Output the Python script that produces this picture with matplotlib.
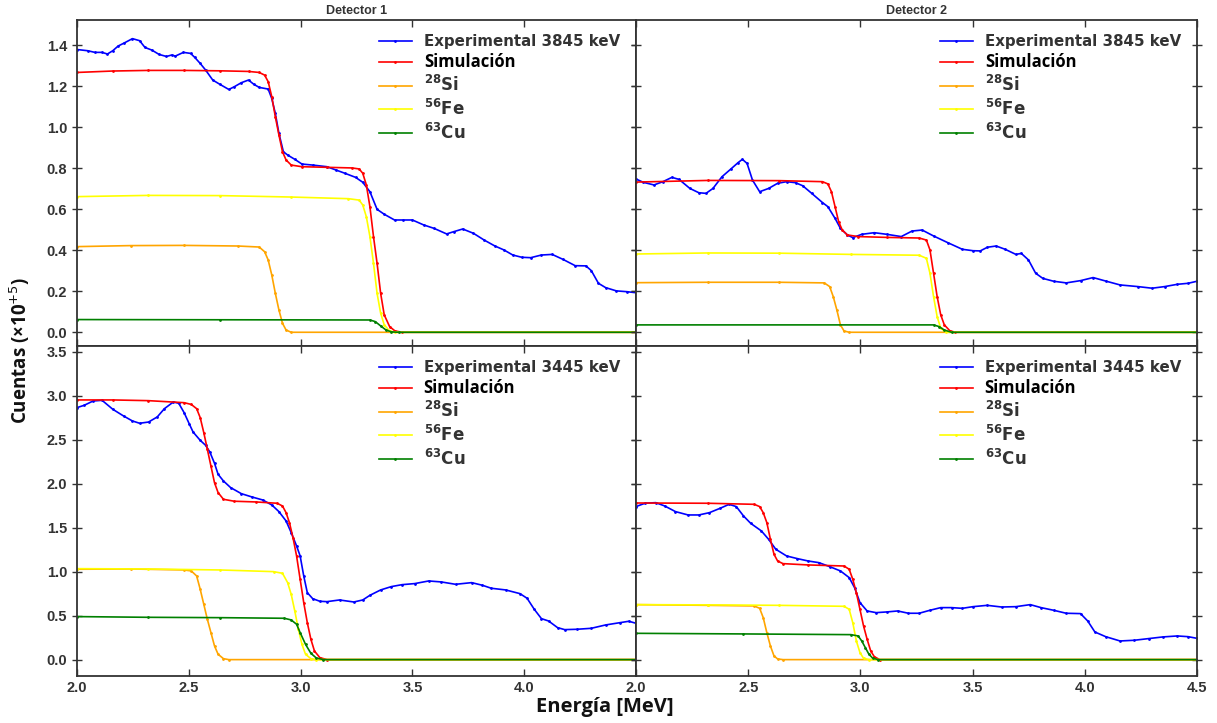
import matplotlib
matplotlib.use("Agg")
import matplotlib.pyplot as plt

# ---------------- data (Energy [MeV], Counts [x1e5]) ----------------
# Detector 1, 3845 keV
d1_3845_exp = [(2.000, 1.380), (2.048, 1.374), (2.080, 1.366), (2.112, 1.366), (2.136, 1.358), (2.160, 1.374),
               (2.184, 1.397), (2.208, 1.410), (2.248, 1.433), (2.280, 1.423), (2.304, 1.390), (2.335, 1.377),
               (2.367, 1.356), (2.400, 1.346), (2.423, 1.353), (2.440, 1.348), (2.476, 1.366), (2.508, 1.361),
               (2.527, 1.341), (2.551, 1.312), (2.575, 1.280), (2.607, 1.231), (2.639, 1.210), (2.679, 1.185),
               (2.703, 1.198), (2.735, 1.218), (2.767, 1.231), (2.791, 1.210), (2.815, 1.195), (2.855, 1.187),
               (2.871, 1.141), (2.887, 1.068), (2.903, 0.971), (2.923, 0.881), (2.942, 0.865), (2.974, 0.844),
               (3.006, 0.821), (3.054, 0.816), (3.118, 0.808), (3.158, 0.792), (3.198, 0.776), (3.246, 0.756),
               (3.278, 0.732), (3.310, 0.686), (3.342, 0.600), (3.374, 0.576), (3.420, 0.548), (3.460, 0.548),
               (3.500, 0.548), (3.550, 0.524), (3.597, 0.507), (3.653, 0.480), (3.685, 0.491), (3.725, 0.504),
               (3.773, 0.483), (3.821, 0.450), (3.869, 0.421), (3.909, 0.402), (3.949, 0.377), (3.989, 0.366),
               (4.029, 0.364), (4.077, 0.377), (4.125, 0.380), (4.173, 0.356), (4.228, 0.325), (4.276, 0.324),
               (4.300, 0.301), (4.332, 0.239), (4.364, 0.218), (4.412, 0.202), (4.460, 0.198), (4.500, 0.193)]
d1_3845_sim = [(2.000, 1.268), (2.160, 1.275), (2.319, 1.278), (2.479, 1.278), (2.639, 1.276), (2.767, 1.273),
               (2.815, 1.268), (2.839, 1.255), (2.855, 1.223), (2.871, 1.150), (2.887, 1.052), (2.903, 0.963),
               (2.919, 0.881), (2.935, 0.841), (2.958, 0.816), (3.006, 0.808), (3.118, 0.805), (3.230, 0.802),
               (3.262, 0.797), (3.278, 0.776), (3.294, 0.719), (3.310, 0.613), (3.326, 0.467), (3.342, 0.337),
               (3.358, 0.190), (3.374, 0.085), (3.398, 0.028), (3.422, 0.0065), (3.454, 0.0), (4.500, 0.0)]
d1_3845_si = [(2.000, 0.418), (2.240, 0.423), (2.479, 0.424), (2.719, 0.421), (2.815, 0.416), (2.839, 0.393),
              (2.855, 0.353), (2.871, 0.280), (2.887, 0.190), (2.903, 0.109), (2.919, 0.044), (2.935, 0.011),
              (2.958, 0.0), (4.500, 0.0)]
d1_3845_fe = [(2.000, 0.662), (2.319, 0.668), (2.639, 0.667), (2.958, 0.660), (3.214, 0.652), (3.262, 0.645),
              (3.278, 0.621), (3.294, 0.564), (3.310, 0.467), (3.326, 0.337), (3.342, 0.190), (3.358, 0.093),
              (3.374, 0.036), (3.398, 0.0065), (3.422, 0.0), (4.500, 0.0)]
d1_3845_cu = [(2.000, 0.062), (2.639, 0.061), (3.310, 0.060), (3.334, 0.052), (3.358, 0.031), (3.382, 0.011),
              (3.406, 0.002), (3.438, 0.0), (4.500, 0.0)]

# Detector 2, 3845 keV
d2_3845_exp = [(2.000, 0.748), (2.032, 0.732), (2.080, 0.719), (2.120, 0.735), (2.160, 0.756), (2.192, 0.746),
               (2.240, 0.702), (2.280, 0.681), (2.312, 0.678), (2.343, 0.702), (2.383, 0.759), (2.423, 0.797),
               (2.455, 0.828), (2.474, 0.844), (2.495, 0.824), (2.519, 0.743), (2.551, 0.686), (2.591, 0.702),
               (2.631, 0.727), (2.671, 0.735), (2.711, 0.730), (2.743, 0.715), (2.783, 0.678), (2.831, 0.633),
               (2.855, 0.613), (2.887, 0.556), (2.911, 0.507), (2.942, 0.475), (2.966, 0.462), (3.006, 0.478),
               (3.062, 0.486), (3.118, 0.478), (3.182, 0.467), (3.230, 0.494), (3.275, 0.499), (3.326, 0.470),
               (3.390, 0.437), (3.454, 0.405), (3.502, 0.398), (3.534, 0.397), (3.566, 0.415), (3.605, 0.421),
               (3.645, 0.405), (3.693, 0.380), (3.717, 0.385), (3.749, 0.353), (3.781, 0.288), (3.813, 0.263),
               (3.861, 0.249), (3.917, 0.241), (3.981, 0.252), (4.037, 0.267), (4.093, 0.250), (4.157, 0.231),
               (4.236, 0.223), (4.300, 0.215), (4.356, 0.223), (4.412, 0.234), (4.460, 0.239), (4.500, 0.249)]
d2_3845_sim = [(2.000, 0.733), (2.319, 0.741), (2.639, 0.740), (2.831, 0.735), (2.855, 0.724), (2.871, 0.686),
               (2.887, 0.613), (2.903, 0.540), (2.919, 0.499), (2.942, 0.475), (2.990, 0.467), (3.118, 0.463),
               (3.262, 0.460), (3.294, 0.450), (3.310, 0.402), (3.326, 0.288), (3.342, 0.174), (3.358, 0.085),
               (3.374, 0.036), (3.398, 0.008), (3.422, 0.0), (4.500, 0.0)]
d2_3845_si = [(2.000, 0.242), (2.319, 0.244), (2.639, 0.244), (2.839, 0.241), (2.863, 0.223), (2.879, 0.174),
              (2.895, 0.109), (2.911, 0.036), (2.927, 0.0065), (2.950, 0.0), (4.500, 0.0)]
d2_3845_fe = [(2.000, 0.382), (2.319, 0.387), (2.639, 0.386), (2.958, 0.380), (3.262, 0.376), (3.294, 0.361),
              (3.310, 0.288), (3.326, 0.174), (3.342, 0.076), (3.358, 0.020), (3.382, 0.0), (4.500, 0.0)]
d2_3845_cu = [(2.000, 0.036), (3.326, 0.036), (3.350, 0.028), (3.374, 0.011), (3.406, 0.0), (4.500, 0.0)]

# Detector 1, 3445 keV
d1_3445_exp = [(2.000, 2.864), (2.032, 2.890), (2.072, 2.939), (2.112, 2.947), (2.160, 2.845), (2.208, 2.769),
               (2.248, 2.712), (2.280, 2.686), (2.320, 2.700), (2.359, 2.758), (2.391, 2.852), (2.431, 2.928),
               (2.455, 2.913), (2.479, 2.807), (2.503, 2.674), (2.519, 2.587), (2.551, 2.492), (2.575, 2.436),
               (2.594, 2.360), (2.615, 2.231), (2.631, 2.106), (2.655, 2.030), (2.687, 1.955), (2.735, 1.886),
               (2.783, 1.848), (2.831, 1.814), (2.871, 1.758), (2.903, 1.682), (2.935, 1.576), (2.958, 1.443),
               (2.982, 1.292), (2.998, 1.178), (3.014, 0.951), (3.030, 0.761), (3.054, 0.693), (3.086, 0.663),
               (3.118, 0.659), (3.174, 0.678), (3.238, 0.655), (3.278, 0.678), (3.310, 0.731), (3.358, 0.792),
               (3.406, 0.830), (3.454, 0.852), (3.510, 0.864), (3.573, 0.894), (3.629, 0.883), (3.693, 0.856),
               (3.765, 0.875), (3.813, 0.845), (3.853, 0.811), (3.917, 0.792), (3.981, 0.750), (4.013, 0.697),
               (4.045, 0.572), (4.077, 0.466), (4.109, 0.439), (4.149, 0.364), (4.181, 0.341), (4.236, 0.345),
               (4.300, 0.356), (4.364, 0.394), (4.428, 0.420), (4.468, 0.436), (4.500, 0.413)]
d1_3445_sim = [(2.000, 2.951), (2.160, 2.951), (2.319, 2.943), (2.479, 2.920), (2.511, 2.900), (2.535, 2.852),
               (2.551, 2.750), (2.567, 2.580), (2.583, 2.390), (2.599, 2.200), (2.615, 2.010), (2.631, 1.898),
               (2.655, 1.822), (2.703, 1.800), (2.799, 1.792), (2.895, 1.777), (2.919, 1.746), (2.935, 1.670),
               (2.950, 1.557), (2.966, 1.386), (2.982, 1.178), (2.998, 0.913), (3.014, 0.648), (3.030, 0.420),
               (3.046, 0.231), (3.062, 0.098), (3.086, 0.023), (3.118, 0.0), (4.500, 0.0)]
d1_3445_si = [(2.000, 1.027), (2.240, 1.030), (2.479, 1.019), (2.511, 1.008), (2.535, 0.951), (2.551, 0.800),
              (2.567, 0.629), (2.583, 0.458), (2.599, 0.307), (2.615, 0.155), (2.631, 0.061), (2.655, 0.011),
              (2.679, 0.0), (4.500, 0.0)]
d1_3445_fe = [(2.000, 1.034), (2.319, 1.030), (2.639, 1.019), (2.879, 1.000), (2.919, 0.981), (2.942, 0.875),
              (2.958, 0.742), (2.974, 0.553), (2.990, 0.345), (3.006, 0.174), (3.022, 0.061), (3.046, 0.011),
              (3.070, 0.0), (4.500, 0.0)]
d1_3445_cu = [(2.000, 0.489), (2.319, 0.481), (2.639, 0.477), (2.927, 0.470), (2.958, 0.451), (2.982, 0.402),
              (2.998, 0.307), (3.022, 0.174), (3.046, 0.072), (3.070, 0.019), (3.102, 0.0), (4.500, 0.0)]

# Detector 2, 3445 keV
d2_3445_exp = [(2.000, 1.739), (2.040, 1.777), (2.088, 1.784), (2.128, 1.746), (2.176, 1.682), (2.232, 1.644),
               (2.280, 1.644), (2.327, 1.670), (2.375, 1.720), (2.415, 1.765), (2.447, 1.739), (2.479, 1.633),
               (2.511, 1.549), (2.559, 1.462), (2.591, 1.367), (2.623, 1.254), (2.671, 1.178), (2.719, 1.148),
               (2.767, 1.121), (2.815, 1.102), (2.863, 1.057), (2.911, 1.008), (2.950, 0.932), (2.974, 0.818),
               (2.998, 0.648), (3.030, 0.553), (3.070, 0.534), (3.118, 0.542), (3.166, 0.553), (3.214, 0.527),
               (3.262, 0.527), (3.310, 0.561), (3.358, 0.591), (3.406, 0.591), (3.454, 0.583), (3.502, 0.602),
               (3.565, 0.617), (3.629, 0.598), (3.693, 0.602), (3.757, 0.625), (3.805, 0.591), (3.861, 0.561),
               (3.917, 0.527), (3.981, 0.523), (4.013, 0.439), (4.045, 0.314), (4.093, 0.261), (4.157, 0.212),
               (4.220, 0.220), (4.284, 0.239), (4.348, 0.258), (4.412, 0.269), (4.460, 0.261), (4.500, 0.242)]
d2_3445_sim = [(2.000, 1.780), (2.319, 1.777), (2.527, 1.765), (2.551, 1.739), (2.567, 1.670), (2.583, 1.557),
               (2.599, 1.367), (2.615, 1.197), (2.631, 1.121), (2.655, 1.091), (2.767, 1.076), (2.927, 1.064),
               (2.950, 1.027), (2.966, 0.913), (2.982, 0.761), (2.998, 0.572), (3.014, 0.383), (3.030, 0.231),
               (3.046, 0.098), (3.062, 0.034), (3.086, 0.0), (4.500, 0.0)]
d2_3445_si = [(2.000, 0.625), (2.319, 0.617), (2.527, 0.610), (2.551, 0.583), (2.567, 0.477), (2.583, 0.307),
              (2.599, 0.155), (2.615, 0.042), (2.631, 0.008), (2.655, 0.0), (4.500, 0.0)]
d2_3445_fe = [(2.000, 0.625), (2.319, 0.622), (2.639, 0.617), (2.927, 0.606), (2.950, 0.572), (2.966, 0.420),
              (2.982, 0.212), (2.998, 0.080), (3.014, 0.015), (3.038, 0.0), (4.500, 0.0)]
d2_3445_cu = [(2.000, 0.299), (2.479, 0.292), (2.958, 0.284), (2.990, 0.269), (3.006, 0.212), (3.022, 0.136),
              (3.038, 0.061), (3.054, 0.019), (3.078, 0.0), (4.500, 0.0)]

labels_top = ["Experimental 3845 keV", "Simulación", r"$\mathbf{{}^{28}Si}$", r"$\mathbf{{}^{56}Fe}$", r"$\mathbf{{}^{63}Cu}$"]
labels_bot = ["Experimental 3445 keV", "Simulación", r"$\mathbf{{}^{28}Si}$", r"$\mathbf{{}^{56}Fe}$", r"$\mathbf{{}^{63}Cu}$"]
series_colors = ["#0000ff", "#ff0000", "#ffa500", "#ffff00", "#008000"]
x_ticks = [2.0, 2.5, 3.0, 3.5, 4.0, 4.5]
y_ticks_top = [0.0, 0.2, 0.4, 0.6, 0.8, 1.0, 1.2, 1.4]
y_ticks_bot = [0.0, 0.5, 1.0, 1.5, 2.0, 2.5, 3.0, 3.5]

# ---------------- figure ----------------
plt.rcParams["font.family"] = ["DejaVu Sans"]
fig = plt.figure(figsize=(12.17, 7.23), dpi=100)
W, H = 1217.0, 723.0
xl, xm, xr = 77 / W, 636 / W, 1197 / W
yt, ym, yb = 1 - 20 / H, 1 - 346 / H, 1 - 676 / H

axes = {
    "tl": fig.add_axes([xl, ym, xm - xl, yt - ym]),
    "tr": fig.add_axes([xm, ym, xr - xm, yt - ym]),
    "bl": fig.add_axes([xl, yb, xm - xl, ym - yb]),
    "br": fig.add_axes([xm, yb, xr - xm, ym - yb]),
}
panel_data = {
    "tl": [d1_3845_exp, d1_3845_sim, d1_3845_si, d1_3845_fe, d1_3845_cu],
    "tr": [d2_3845_exp, d2_3845_sim, d2_3845_si, d2_3845_fe, d2_3845_cu],
    "bl": [d1_3445_exp, d1_3445_sim, d1_3445_si, d1_3445_fe, d1_3445_cu],
    "br": [d2_3445_exp, d2_3445_sim, d2_3445_si, d2_3445_fe, d2_3445_cu],
}
tick_color = "#333333"
for key, ax in axes.items():
    labels = labels_top if key[0] == "t" else labels_bot
    for pts, col, lab in zip(panel_data[key], series_colors, labels):
        xs = [p[0] for p in pts]
        ys = [p[1] for p in pts]
        ax.plot(xs, ys, color=col, lw=1.2, marker=".", ms=2.0, label=lab)
    ax.set_xlim(2.0, 4.5)
    if key[0] == "t":
        ax.set_ylim(-0.067, 1.524)
        ax.set_yticks(y_ticks_top)
    else:
        ax.set_ylim(-0.186, 3.564)
        ax.set_yticks(y_ticks_bot)
    ax.set_xticks(x_ticks)
    ax.tick_params(axis="x", direction="in", length=5, width=1, top=True, bottom=True, colors=tick_color)
    ax.tick_params(axis="y", direction="inout", length=7, width=1, left=True, right=True, colors=tick_color)
    for sp in ax.spines.values():
        sp.set_color("#333333")
        sp.set_linewidth(1.3)
    for t in ax.get_xticklabels() + ax.get_yticklabels():
        t.set_fontfamily("Liberation Sans")
        t.set_fontweight("bold")
        t.set_fontsize(10.5)
        t.set_color("#333333")
    if key[0] == "t":
        ax.set_xticklabels([])
    else:
        if key == "bl":
            ax.set_xticklabels(["2.0", "2.5", "3.0", "3.5", "4.0", ""])
    if key[1] == "r":
        ax.set_yticklabels([])
    leg = ax.legend(loc="upper right", bbox_to_anchor=(0.997, 1.0), frameon=False,
                    handlelength=2.2, handletextpad=0.8, labelspacing=0.25,
                    borderaxespad=0.55, prop={"family": "DejaVu Sans", "weight": "bold", "size": 10.8})
    for i, txt in enumerate(leg.get_texts()):
        txt.set_color("#333333")
        if i == 1:
            txt.set_fontfamily("Open Sans")
            txt.set_fontsize(12)
            txt.set_color("#000000")
        elif i >= 2:
            txt.set_fontsize(12)

axes["tl"].set_title("Detector 1", fontfamily="Liberation Sans", fontweight="bold", fontsize=9,
                     color="#333333", pad=4)
axes["tr"].set_title("Detector 2", fontfamily="Liberation Sans", fontweight="bold", fontsize=9,
                     color="#333333", pad=4)

fig.text(20 / W, 1 - 350 / H, "Cuentas (×10$^{+5}$)", rotation=90, ha="center", va="center",
         fontfamily="Open Sans", fontweight="bold", fontsize=13.5, color="#111111")
fig.text(605 / W, 1 - 707 / H, "Energía [MeV]", ha="center", va="center",
         fontfamily="Open Sans", fontweight="bold", fontsize=14.5, color="#111111")

fig.savefig("out.png", dpi=100)
